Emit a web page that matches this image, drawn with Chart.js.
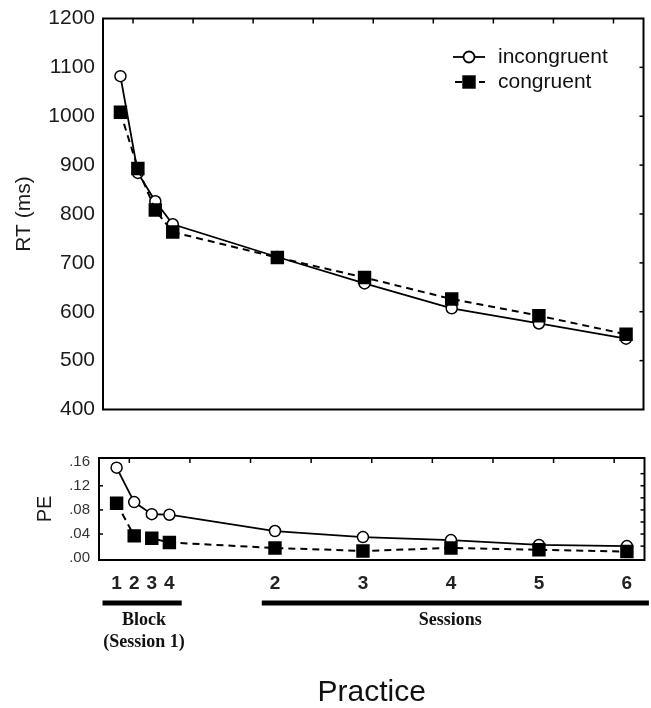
<!DOCTYPE html>
<html><head><meta charset="utf-8">
<script src="https://cdn.jsdelivr.net/npm/chart.js@4"></script>
<style>
html,body{margin:0;padding:0;background:#fff;}
#wrap{position:relative;width:651px;height:708px;overflow:hidden;}
#c1{position:absolute;left:0;top:0;}
#c2{position:absolute;left:0;top:420px;}
</style></head><body>
<div id="wrap">
<canvas id="c1" width="653" height="428"></canvas>
<canvas id="c2" width="654" height="288"></canvas>
</div>
<script>
// ---- data ----
const seriesNames = ['incongruent', 'congruent'];
const xPositions = [0.2, 0.4, 0.6, 0.8, 2, 3, 4, 5, 6];
const tickLabels = ['1', '2', '3', '4', '2', '3', '4', '5', '6'];
const rtIncongruent = [1082, 884, 826, 779, 712, 658, 607, 576, 545];
const rtCongruent = [1008, 893, 808, 763, 711, 670, 626, 592, 554];
const peIncongruent = [0.150, 0.093, 0.073, 0.072, 0.045, 0.035, 0.030, 0.022, 0.020];
const peCongruent = [0.091, 0.037, 0.033, 0.026, 0.017, 0.012, 0.017, 0.014, 0.011];
const rtTicks = [400, 500, 600, 700, 800, 900, 1000, 1100, 1200];
const peTicks = [0, 0.04, 0.08, 0.12, 0.16];
const groupLabels = [['Block', '(Session 1)'], ['Sessions']];
const yTitles = ['RT (ms)', 'PE'];
const xTitle = 'Practice';

// ---- layout / style ----
const SANS = "'Liberation Sans', Arial, sans-serif";
const SERIF = "'Liberation Serif', 'Times New Roman', serif";
const groupSpans = [[0.04, 0.94], [1.85, 6.25]];

function pts(vals) { return vals.map((v, i) => ({ x: xPositions[i], y: v })); }
function makeDatasets(inc, con) {
  return [
    { label: seriesNames[0], data: pts(inc), borderColor: '#000', borderWidth: 1.8,
      pointStyle: 'circle', pointRadius: 5.5, pointBackgroundColor: '#fff',
      pointBorderColor: '#000', pointBorderWidth: 1.5, tension: 0, order: 2 },
    { label: seriesNames[1], data: pts(con), borderColor: '#000', borderWidth: 2,
      borderDash: [7, 5], pointStyle: 'rect', pointRadius: 9.5, pointBackgroundColor: '#000',
      pointBorderColor: '#000', pointBorderWidth: 0, tension: 0, order: 1 }
  ];
}

const framePlugin = {
  id: 'frame',
  beforeDatasetsDraw(chart, args, opts) {
    const { ctx, chartArea: a } = chart;
    ctx.save();
    ctx.strokeStyle = '#000';
    ctx.lineWidth = 2;
    ctx.strokeRect(a.left, a.top, a.right - a.left, a.bottom - a.top);
    ctx.lineWidth = 1.5;
    const xt = chart.scales.xTop;
    for (let i = 0; i < 9; i++) {
      const x = xt.getPixelForValue(i + 0.5);
      ctx.beginPath(); ctx.moveTo(x, a.top); ctx.lineTo(x, a.top + 5); ctx.stroke();
    }
    const ys = chart.scales.y;
    (opts.rightTicks || []).forEach(v => {
      const y = ys.getPixelForValue(v);
      ctx.beginPath(); ctx.moveTo(a.right, y); ctx.lineTo(a.right - 4, y); ctx.stroke();
    });
    (opts.leftTicks || []).forEach(v => {
      const y = ys.getPixelForValue(v);
      ctx.beginPath(); ctx.moveTo(a.left, y); ctx.lineTo(a.left + 4, y); ctx.stroke();
    });
    ctx.restore();
  }
};

const legendPlugin = {
  id: 'lineLegend',
  afterDraw(chart, args, opts) {
    if (!opts.show) return;
    const ctx = chart.ctx;
    ctx.save();
    chart.data.datasets.forEach((ds, i) => {
      const y = opts.y + i * opts.gap;
      ctx.strokeStyle = ds.borderColor;
      ctx.lineWidth = ds.borderWidth;
      ctx.setLineDash(ds.borderDash || []);
      ctx.lineDashOffset = ds.borderDash ? -2 : 0;
      ctx.beginPath(); ctx.moveTo(opts.x, y); ctx.lineTo(opts.x + 32, y); ctx.stroke();
      ctx.setLineDash([]);
      ctx.fillStyle = ds.pointBackgroundColor;
      ctx.strokeStyle = ds.pointBorderColor;
      Chart.helpers.drawPoint(ctx, { pointStyle: ds.pointStyle, radius: ds.pointRadius,
        borderWidth: ds.pointBorderWidth, rotation: 0 }, opts.x + 16, y);
      ctx.fillStyle = '#111';
      ctx.font = '21px ' + SANS;
      ctx.textBaseline = 'middle';
      ctx.fillText(ds.label, opts.x + 45, y);
    });
    ctx.restore();
  }
};

const groupPlugin = {
  id: 'groups',
  afterDraw(chart, args, opts) {
    if (!opts.show) return;
    const { ctx, chartArea: a } = chart;
    const xs = chart.scales.x;
    ctx.save();
    groupLabels.forEach((lines, gi) => {
      const x1 = xs.getPixelForValue(groupSpans[gi][0]);
      const x2 = xs.getPixelForValue(groupSpans[gi][1]);
      ctx.fillStyle = '#000';
      ctx.fillRect(x1, a.bottom + 40.5, x2 - x1, 5);
      ctx.font = 'bold 18px ' + SERIF;
      ctx.textAlign = 'center';
      ctx.textBaseline = 'middle';
      ctx.fillStyle = '#111';
      const cx = (x1 + x2) / 2 + (gi === 0 ? 2 : -5);
      lines.forEach((t, li) => ctx.fillText(t, cx, a.bottom + 60 + li * 22));
    });
    ctx.restore();
  }
};

const commonX = { type: 'linear', min: 0, max: 6.2 };

new Chart(document.getElementById('c1'), {
  type: 'line',
  data: { datasets: makeDatasets(rtIncongruent, rtCongruent) },
  plugins: [framePlugin, legendPlugin],
  options: {
    responsive: false, animation: false,
    layout: { padding: { top: 14, right: 6, bottom: 14, left: 0 } },
    plugins: {
      legend: { display: false }, tooltip: { enabled: false },
      frame: { rightTicks: [500, 600, 700, 800, 900, 1000, 1100] },
      lineLegend: { show: true, x: 453, y: 57, gap: 25 }
    },
    scales: {
      x: Object.assign({}, commonX, { display: false }),
      xTop: { type: 'linear', position: 'top', min: 0, max: 9, display: false },
      y: {
        min: 400, max: 1200,
        afterBuildTicks: s => { s.ticks = rtTicks.map(v => ({ value: v })); },
        afterFit: s => { s.width = 103; },
        grid: { display: false, drawTicks: false }, border: { display: false },
        ticks: { font: { family: SANS, size: 21, lineHeight: 1 }, color: '#1a1a1a', padding: 8,
          callback: v => String(v) },
        title: { display: true, text: yTitles[0], font: { family: SANS, size: 21 },
          color: '#1a1a1a', padding: { top: 12, bottom: 0 } }
      }
    }
  }
});

new Chart(document.getElementById('c2'), {
  type: 'line',
  data: { datasets: makeDatasets(peIncongruent, peCongruent) },
  plugins: [framePlugin, groupPlugin],
  options: {
    responsive: false, animation: false,
    layout: { padding: { top: 38, right: 5, bottom: 0, left: 0 } },
    plugins: {
      legend: { display: false }, tooltip: { enabled: false },
      frame: { rightTicks: [0.02, 0.04, 0.06, 0.08, 0.10, 0.12, 0.14], leftTicks: [0.04, 0.08, 0.12] },
      groups: { show: true }
    },
    scales: {
      x: Object.assign({}, commonX, {
        afterBuildTicks: s => { s.ticks = xPositions.map(v => ({ value: v })); },
        afterFit: s => { s.height = 148; },
        grid: { display: false, drawTicks: false }, border: { display: false },
        ticks: { autoSkip: false, maxRotation: 0, padding: 12,
          font: { family: SANS, size: 19, weight: 'bold' }, color: '#222',
          callback: (v, i) => tickLabels[i] },
        title: { display: true, text: xTitle, font: { family: SANS, size: 30, lineHeight: 1 },
          color: '#111', padding: { top: 0, bottom: 0 } }
      }),
      xTop: { type: 'linear', position: 'top', min: 0, max: 9, display: false },
      y: {
        min: -0.003, max: 0.166,
        afterBuildTicks: s => { s.ticks = peTicks.map(v => ({ value: v })); },
        afterFit: s => { s.width = 99; },
        grid: { display: false, drawTicks: false }, border: { display: false },
        ticks: { font: { family: SANS, size: 15 }, color: '#333', padding: 9,
          callback: v => v.toFixed(2).replace(/^0/, '') },
        title: { display: true, text: yTitles[1], font: { family: SANS, size: 20 },
          color: '#1a1a1a', padding: { top: 33, bottom: 0 } }
      }
    }
  }
});
</script>
</body></html>
